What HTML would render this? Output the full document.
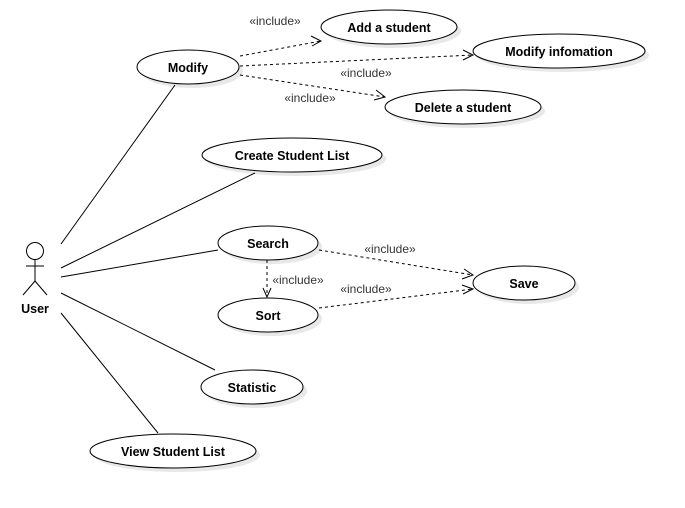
<!DOCTYPE html>
<html><head><meta charset="utf-8"><style>
html,body{margin:0;padding:0;background:#fff;}
svg{display:block;}
text{font-family:"Liberation Sans",Arial,sans-serif;}
.t{font-size:12.5px;font-weight:bold;fill:#000;text-anchor:middle;}
.i{font-size:12px;fill:#333;text-anchor:middle;}
</style></head><body>
<svg width="685" height="508" viewBox="0 0 685 508">
<defs>
<g id="dummy"></g>
</defs>
<g fill="#e8e8e8" stroke="none">
<ellipse cx="192" cy="71" rx="51" ry="17"/>
<ellipse cx="393" cy="31" rx="68" ry="17"/>
<ellipse cx="563" cy="55" rx="86" ry="17"/>
<ellipse cx="467" cy="111" rx="78" ry="17"/>
<ellipse cx="296" cy="159" rx="90" ry="17"/>
<ellipse cx="272" cy="247" rx="50" ry="17"/>
<ellipse cx="272" cy="319" rx="50" ry="17"/>
<ellipse cx="528" cy="287" rx="51" ry="17"/>
<ellipse cx="256" cy="391" rx="51" ry="17"/>
<ellipse cx="177" cy="455" rx="83" ry="17"/>
</g>
<g fill="#fff" stroke="#000" stroke-width="1">
<ellipse cx="188" cy="67" rx="51" ry="17"/>
<ellipse cx="389" cy="27" rx="68" ry="17"/>
<ellipse cx="559" cy="51" rx="86" ry="17"/>
<ellipse cx="463" cy="107" rx="78" ry="17"/>
<ellipse cx="292" cy="155" rx="90" ry="17"/>
<ellipse cx="268" cy="243" rx="50" ry="17"/>
<ellipse cx="268" cy="315" rx="50" ry="17"/>
<ellipse cx="524" cy="283" rx="51" ry="17"/>
<ellipse cx="252" cy="387" rx="51" ry="17"/>
<ellipse cx="173" cy="451" rx="83" ry="17"/>
</g>
<g class="t">
<text class="t" x="188" y="72">Modify</text>
<text class="t" x="389" y="32">Add a student</text>
<text class="t" x="559" y="56">Modify infomation</text>
<text class="t" x="463" y="112">Delete a student</text>
<text class="t" x="292" y="160">Create Student List</text>
<text class="t" x="268" y="248">Search</text>
<text class="t" x="268" y="320">Sort</text>
<text class="t" x="524" y="288">Save</text>
<text class="t" x="252" y="392">Statistic</text>
<text class="t" x="173" y="456">View Student List</text>
<text class="t" x="35" y="313">User</text>
</g>
<g stroke="#000" stroke-width="1" fill="none">
<circle cx="35" cy="251" r="8.5" fill="#fff"/>
<line x1="35" y1="260" x2="35" y2="281"/>
<line x1="26" y1="266" x2="44" y2="266"/>
<line x1="35" y1="281" x2="23" y2="295"/>
<line x1="35" y1="281" x2="47" y2="295"/>
<line x1="61" y1="244" x2="175" y2="85"/>
<line x1="61" y1="268" x2="255" y2="173"/>
<line x1="61" y1="277" x2="218" y2="250"/>
<line x1="61" y1="293" x2="215" y2="370"/>
<line x1="61" y1="313" x2="158" y2="433"/>
</g>
<g stroke="#000" stroke-width="1" fill="none" stroke-dasharray="3,3">
<line x1="240" y1="56" x2="321" y2="41"/>
<line x1="240" y1="66" x2="473" y2="55"/>
<line x1="240" y1="75" x2="385" y2="97"/>
<line x1="319" y1="250" x2="473" y2="275"/>
<line x1="319" y1="308" x2="473" y2="289"/>
<line x1="267" y1="260" x2="267" y2="297"/>
</g>
<g stroke="#000" stroke-width="1" fill="none">
<polyline points="311,36 321,41 312,46"/>
<polyline points="463,50 473,55 463,60"/>
<polyline points="376,90 385,97 374,100"/>
<polyline points="464,269 473,275 462,279"/>
<polyline points="462,285 473,289 463,294"/>
<polyline points="263,288 267,297 271,288"/>
</g>
<g>
<text class="i" x="275" y="25">«include»</text>
<text class="i" x="366" y="77">«include»</text>
<text class="i" x="310" y="102">«include»</text>
<text class="i" x="390" y="253">«include»</text>
<text class="i" x="298" y="284">«include»</text>
<text class="i" x="366" y="293">«include»</text>
</g>
</svg>
</body></html>
